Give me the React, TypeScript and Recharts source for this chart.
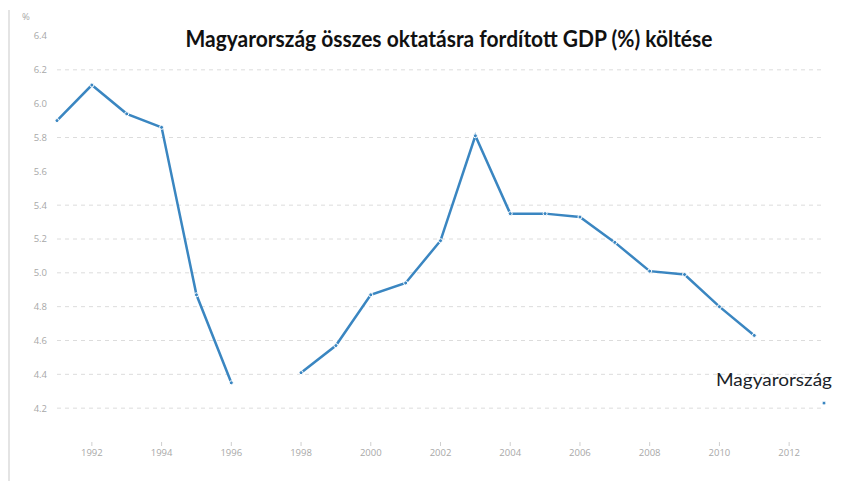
import React from "react";
import { LineChart, Line, XAxis, YAxis, ReferenceLine, LabelList } from "recharts";

const years = [1991, 1992, 1993, 1994, 1995, 1996, 1997, 1998, 1999, 2000, 2001, 2002, 2003, 2004, 2005, 2006, 2007, 2008, 2009, 2010, 2011, 2012, 2013];
const values: (number | null)[] = [5.90, 6.11, 5.94, 5.86, 4.87, 4.35, null, 4.41, 4.57, 4.87, 4.94, 5.19, 5.81, 5.35, 5.35, 5.33, 5.18, 5.01, 4.99, 4.80, 4.63, null, 4.23];
const yearTicks = [1992, 1994, 1996, 1998, 2000, 2002, 2004, 2006, 2008, 2010, 2012];
const valueTicks = [4.2, 4.4, 4.6, 4.8, 5.0, 5.2, 5.4, 5.6, 5.8, 6.0, 6.2, 6.4];
const gridValues = [4.2, 4.4, 4.6, 4.8, 5.0, 5.2, 5.4, 5.8, 6.2];
const seriesName = "Magyarország";
const title = "Magyarország összes oktatásra fordított GDP (%) költése";
const unit = "%";

const data = years.map((year, i) => ({ year, value: values[i] }));
const lastIndex = data.length - 1;

const LINE = "#3a86c1";
const AXIS_TEXT = "#a8a8a8";

const SeriesLabel = (props: any) => {
  const { x, y, index } = props;
  if (index !== lastIndex) return null;
  return (
    <text
      x={x - 50}
      y={y - 17}
      textAnchor="middle"
      fill="#1b1f2a"
      fontSize={18}
      fontFamily="Lato, 'Open Sans', sans-serif"
      textLength={116}
      lengthAdjust="spacingAndGlyphs"
    >
      {seriesName}
    </text>
  );
};

export default function App() {
  return (
    <div style={{ position: "absolute", left: 0, top: 0, width: 848, height: 481, background: "#fff" }}>
      <div style={{ position: "absolute", left: 8, top: 10, width: 2, height: 471, background: "#e4e4e4" }} />
      <LineChart
        width={848}
        height={481}
        data={data}
        margin={{ top: 36, right: 24, left: 0, bottom: 9 }}
      >
        {gridValues.map((g) => (
          <ReferenceLine key={g} y={g} stroke="#dcdcdc" strokeDasharray="4 4" strokeWidth={1} />
        ))}
        <XAxis
          dataKey="year"
          type="number"
          domain={[1991, 2013]}
          ticks={yearTicks}
          axisLine={false}
          tickLine={{ stroke: "#cfcfcf" }}
          tickSize={4}
          tickMargin={3}
          height={30}
          tick={{ fill: AXIS_TEXT, fontSize: 9.5, fontFamily: "'Open Sans', sans-serif" }}
        />
        <YAxis
          type="number"
          domain={[4.0, 6.4]}
          ticks={valueTicks}
          axisLine={false}
          tickLine={false}
          tickMargin={4}
          width={57}
          tickFormatter={(v: number) => v.toFixed(1)}
          tick={{ fill: AXIS_TEXT, fontSize: 9.5, fontFamily: "'Open Sans', sans-serif" }}
        />
        <Line
          dataKey="value"
          stroke={LINE}
          strokeWidth={2.5}
          dot={{ r: 2, fill: LINE, stroke: "#fff", strokeWidth: 1 }}
          activeDot={false}
          isAnimationActive={false}
          connectNulls={false}
        >
          <LabelList dataKey="value" content={SeriesLabel} />
        </Line>
      </LineChart>
      <svg width={848} height={481} style={{ position: "absolute", left: 0, top: 0, pointerEvents: "none" }}>
        <text x={22} y={20} fill={AXIS_TEXT} fontSize={9.5} fontFamily="'Open Sans', sans-serif">{unit}</text>
        <text
          x={449}
          y={47}
          textAnchor="middle"
          fill="#111"
          fontSize={22}
          fontWeight="bold"
          fontFamily="Lato, 'Open Sans', sans-serif"
          textLength={527}
          lengthAdjust="spacingAndGlyphs"
        >
          {title}
        </text>
      </svg>
    </div>
  );
}
